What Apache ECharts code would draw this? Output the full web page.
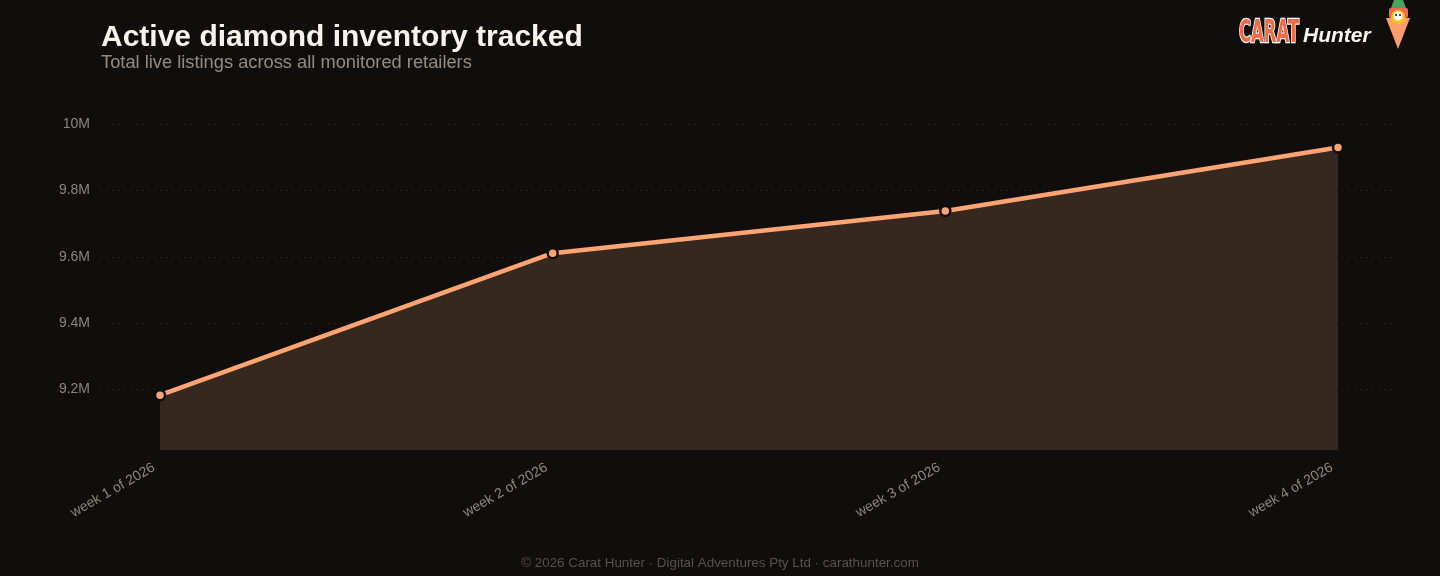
<!DOCTYPE html>
<html>
<head>
<meta charset="utf-8">
<script src="https://cdn.jsdelivr.net/npm/echarts@6/dist/echarts.min.js"></script>
<style>
  html, body { margin: 0; padding: 0; background: #100e0d; }
  #chart { width: 1440px; height: 576px; }
</style>
</head>
<body>
<div id="chart"></div>
<script>
// data
var weeks = ['week 1 of 2026', 'week 2 of 2026', 'week 3 of 2026', 'week 4 of 2026'];
var listings = [9183000, 9611000, 9738000, 9929000];
var yMin = 9018000, yMax = 10000000;

var chart = echarts.init(document.getElementById('chart'));

function fmtM(v) {
    return (Math.round(v / 1e5) / 10) + 'M';
}

var labelFont = { color: '#8c857f', fontSize: 14, fontFamily: 'Liberation Sans' };

chart.setOption({
    backgroundColor: '#100e0d',
    title: {
        text: 'Active diamond inventory tracked',
        subtext: 'Total live listings across all monitored retailers',
        left: 96,
        top: 18,
        itemGap: 1,
        textStyle: { color: '#f7f3ee', fontSize: 30, fontWeight: 'bold', fontFamily: 'Liberation Sans' },
        subtextStyle: { color: '#938c85', fontSize: 18.3, fontFamily: 'Liberation Sans' }
    },
    grid: [
        // wide grid: y labels + dotted guides
        { left: 100, right: 45, top: 124, bottom: 126 },
        // series grid
        { left: 160, right: 102, top: 124, bottom: 126 }
    ],
    xAxis: [
        { gridIndex: 0, type: 'value', show: false, min: 0, max: 1 },
        {
            gridIndex: 1,
            type: 'category',
            data: weeks,
            boundaryGap: false,
            axisLine: { show: false },
            axisTick: { show: false },
            axisLabel: Object.assign({ rotate: 30, margin: 13, padding: [0, 7, 0, 0] }, labelFont)
        }
    ],
    yAxis: [
        {
            gridIndex: 0,
            type: 'value',
            min: yMin,
            max: yMax,
            splitNumber: 5,
            axisLine: { show: false },
            axisTick: { show: false },
            axisLabel: Object.assign({ showMinLabel: false, margin: 10, formatter: fmtM }, labelFont),
            splitLine: {
                showMinLine: false,
                lineStyle: { color: '#242120', type: [2, 4], width: 1 }
            }
        },
        {
            gridIndex: 1,
            type: 'value',
            min: yMin,
            max: yMax,
            show: false,
            splitLine: { show: false }
        }
    ],
    series: [{
        type: 'line',
        xAxisIndex: 1,
        yAxisIndex: 1,
        data: listings,
        symbol: 'circle',
        symbolSize: 10,
        lineStyle: { color: '#ffa472', width: 4.5 },
        itemStyle: { color: '#ffa472', borderColor: '#100e0d', borderWidth: 2.5 },
        areaStyle: { color: '#37281f', opacity: 1 },
        z: 3
    }],
    graphic: [
        {
            type: 'text',
            left: 'center',
            top: 557,
            style: {
                text: '\u00a9 2026 Carat Hunter \u00b7 Digital Adventures Pty Ltd \u00b7 carathunter.com',
                fill: '#57524e',
                font: '13.4px "Liberation Sans"'
            }
        },
        // logo
        {
            type: 'text',
            x: 1239, y: 18,
            scaleX: 0.57,
            style: {
                text: 'CARAT',
                fill: '#f26a45',
                stroke: '#ffffff',
                lineWidth: 2.5,
                font: 'bold 32px "DejaVu Sans Condensed"',
                textVerticalAlign: 'top'
            }
        },
        {
            type: 'text',
            x: 1303, y: 26,
            style: {
                text: 'Hunter',
                fill: '#f7f3ee',
                font: 'italic bold 21px "Liberation Sans"'
            }
        },
        {
            type: 'polygon',
            shape: { points: [[1386, 18], [1410, 18], [1398, 49]] },
            style: { fill: '#ff9e6a' }
        },
        {
            type: 'polygon',
            shape: { points: [[1391, 8], [1394, 0], [1403, 0], [1406, 8]] },
            style: { fill: '#4aa35a' }
        },
        {
            type: 'rect',
            shape: { x: 1389, y: 8, width: 19, height: 10, r: 2 },
            style: { fill: '#f26a45' }
        },
        {
            type: 'circle',
            shape: { cx: 1398, cy: 17, r: 7 },
            style: { fill: '#ffc21a' }
        },
        {
            type: 'circle',
            shape: { cx: 1398, cy: 16, r: 4.5 },
            style: { fill: '#ffffff' }
        },
        {
            type: 'circle',
            shape: { cx: 1396, cy: 15, r: 1 },
            style: { fill: '#111111' }
        },
        {
            type: 'circle',
            shape: { cx: 1400, cy: 15, r: 1 },
            style: { fill: '#111111' }
        }
    ]
});

window.addEventListener('resize', function () {
    chart.resize();
});
</script>
</body>
</html>
